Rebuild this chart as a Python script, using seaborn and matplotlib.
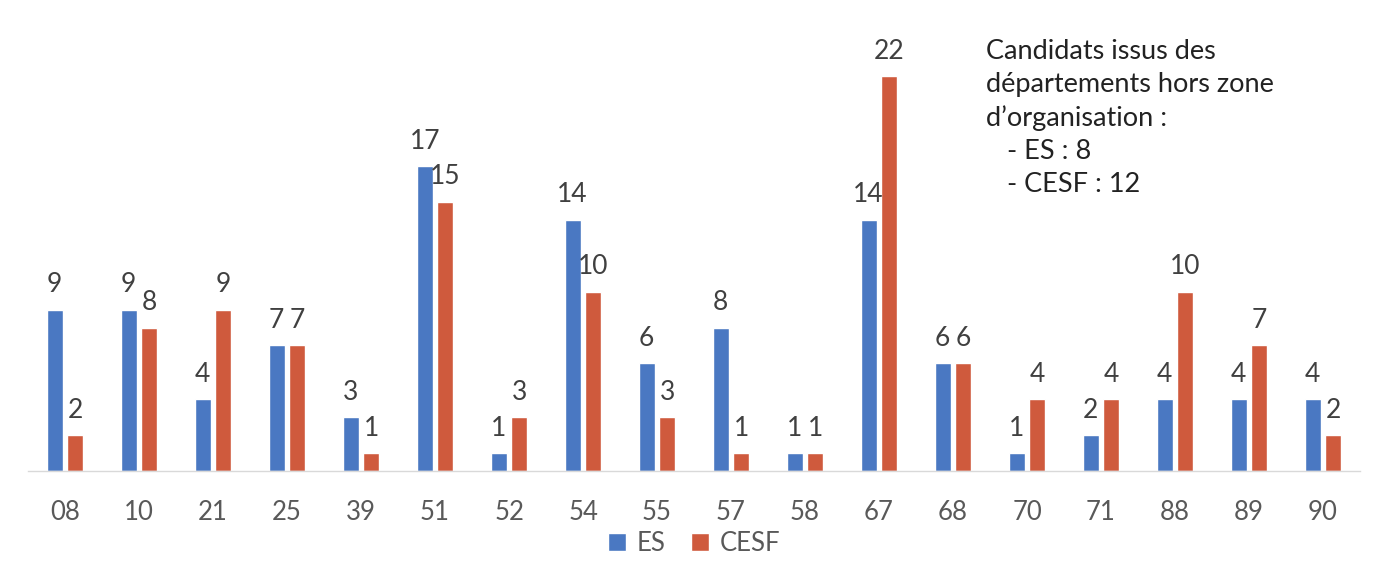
import pandas as pd
import numpy as np
import matplotlib.pyplot as plt
import seaborn as sns

# Data
departements = ["08", "10", "21", "25", "39", "51", "52", "54", "55",
                "57", "58", "67", "68", "70", "71", "88", "89", "90"]
es_values = [9, 9, 4, 7, 3, 17, 1, 14, 6, 8, 1, 14, 6, 1, 2, 4, 4, 4]
cesf_values = [2, 8, 9, 7, 1, 15, 3, 10, 3, 1, 1, 22, 6, 4, 4, 10, 7, 2]
series_names = ["ES", "CESF"]
note_text = ("Candidats issus des\ndépartements hors zone\nd’organisation :\n"
             "   - ES : 8\n   - CESF : 12")

df = pd.DataFrame({
    "dep": departements * 2,
    "val": es_values + cesf_values,
    "serie": [series_names[0]] * len(departements) + [series_names[1]] * len(departements),
})

sns.set_style("white")
plt.rcParams["font.family"] = ["Lato", "DejaVu Sans"]

fig = plt.figure(figsize=(13.75, 5.78), dpi=100)
ax = fig.add_axes([0.0204, 0.185, 0.9687, 0.745])

palette = {"ES": "#4a78c2", "CESF": "#cf5a3d"}
sns.barplot(data=df, x="dep", y="val", hue="serie", order=departements,
            hue_order=series_names, palette=palette, width=0.56, gap=0.22,
            saturation=1, ax=ax, legend=True)

# value labels
for cont in ax.containers:
    ax.bar_label(cont, padding=9, fontsize=19, color="#404040")

ax.set_ylim(0, 24)
ax.set_xlim(-0.5, len(departements) - 0.5)
ax.set_yticks([])
ax.set_xlabel("")
ax.set_ylabel("")
ax.tick_params(axis="x", length=0, labelsize=18.5, labelcolor="#595959", pad=21)
for s in ["top", "right", "left"]:
    ax.spines[s].set_visible(False)
ax.spines["bottom"].set_color("#d9d9d9")
ax.spines["bottom"].set_linewidth(1)

# note box
ax.text(0.7195, 1.003, note_text, transform=ax.transAxes, fontsize=19.5,
        color="#222222", va="top", ha="left", linespacing=1.4)

# legend
handles, labels = ax.get_legend_handles_labels()
ax.legend(handles, labels, loc="center", bbox_to_anchor=(0.5, -0.168),
          ncol=2, frameon=False, fontsize=18.5, handlelength=0.7,
          handleheight=0.7, handletextpad=0.4, columnspacing=1.0,
          labelcolor="#595959", borderpad=0)

fig.savefig("out.png", dpi=100)
